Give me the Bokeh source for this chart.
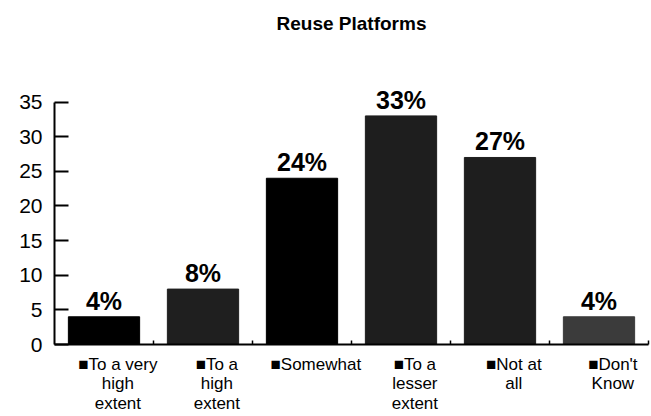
from bokeh.plotting import figure
from bokeh.models import ColumnDataSource, FixedTicker, Range1d, Title
from bokeh.core.properties import value
from bokeh.embed import file_html
from bokeh.resources import INLINE

# ---- data ----
categories = ["To a very\nhigh\nextent", "To a\nhigh\nextent", "Somewhat",
              "To a\nlesser\nextent", "Not at\nall", "Don't\nKnow"]
values = [4, 8, 24, 33, 27, 4]
value_labels = ["4%", "8%", "24%", "33%", "27%", "4%"]
bar_colors = ["#000000", "#1f1f1f", "#000000", "#1e1e1e", "#1e1e1e", "#3b3b3b"]
y_ticks = [0, 5, 10, 15, 20, 25, 30, 35]
y_axis_max = 35
title_text = "Reuse Platforms"

FONT = "Liberation Sans"

# layout (pixels)
W, H = 651, 416
frame_left, frame_right = 54, 648
axis_top_px, frame_bottom_px = 102, 346
frame_top_px = 34
px_per_unit = (frame_bottom_px - axis_top_px) / y_axis_max
y_end = (frame_bottom_px - frame_top_px) / px_per_unit

xs = [i + 1 for i in range(len(categories))]
src = ColumnDataSource(dict(x=xs, top=values, color=bar_colors, label=value_labels))

p = figure(width=W, height=H, output_backend="svg", toolbar_location=None,
           x_range=Range1d(0.5, len(categories) + 0.5), y_range=Range1d(0, y_end),
           min_border_left=frame_left, min_border_right=W - frame_right,
           min_border_top=frame_top_px, min_border_bottom=H - frame_bottom_px)
p.outline_line_color = None
p.xgrid.grid_line_color = None
p.ygrid.grid_line_color = None
p.background_fill_color = "white"
p.border_fill_color = "white"

p.title = Title(text=title_text, align="center", text_font=FONT, text_font_size="19px",
                text_font_style="bold", text_color="#000000", standoff=2)

p.vbar(x="x", top="top", width=0.72, bottom=0, fill_color="color", line_color="color", source=src)
p.text(x="x", y="top", text="label", source=src, text_align="center", text_baseline="bottom",
       y_offset=-2, text_font=value(FONT), text_font_size="25px", text_font_style="bold",
       text_color="#000000")

# y axis
ya = p.yaxis[0]
ya.ticker = FixedTicker(ticks=y_ticks)
ya.bounds = (0, y_axis_max)
ya.major_tick_in = 14
ya.major_tick_out = 0
ya.minor_tick_line_color = None
ya.axis_line_width = 2
ya.major_tick_line_width = 2
ya.major_label_text_font = FONT
ya.major_label_text_font_size = "21px"
ya.major_label_text_color = "#000000"
ya.major_label_standoff = 12

# x axis: boundary ticks as minor ticks, category labels as major labels
shift = 0.14
label_pos = [x + shift for x in xs]
xa = p.xaxis[0]
xa.ticker = FixedTicker(ticks=label_pos, minor_ticks=[x + 0.5 for x in xs])
xa.major_tick_in = 0
xa.major_tick_out = 0
xa.minor_tick_in = 4
xa.minor_tick_out = 0
xa.minor_tick_line_width = 1.5
xa.axis_line_width = 2
xa.major_label_overrides = {pos: "\u25a0" + cat for pos, cat in zip(label_pos, categories)}
xa.major_label_text_font = FONT
xa.major_label_text_font_size = "17px"
xa.major_label_text_line_height = 1.04
xa.major_label_text_color = "#000000"
xa.major_label_standoff = 10

open("out.html", "w").write(file_html(p, INLINE))
